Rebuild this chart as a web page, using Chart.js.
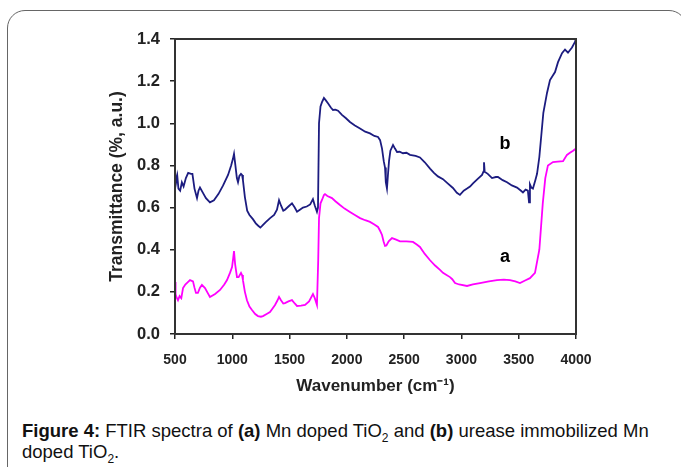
<!DOCTYPE html>
<html>
<head>
<meta charset="utf-8">
<script src="https://cdn.jsdelivr.net/npm/chart.js@4.4.0/dist/chart.umd.min.js"></script>
<style>
    html, body { margin: 0; padding: 0; background: #fff; overflow: hidden; }
    body { width: 681px; height: 467px; position: relative; }
    #frame {
        position: absolute; left: 7px; top: 10px; width: 680px; height: 520px;
        border: 1.5px solid #666; border-radius: 18px; box-sizing: border-box;
    }
    #wrap { position: absolute; left: 0; top: 0; width: 681px; height: 400px; }
    #caption {
        position: absolute; left: 22px; top: 420px; width: 652px;
        font: 18.5px 'Liberation Sans', Arial, sans-serif;
        line-height: 21px; color: #111;
    }
    #caption sub { font-size: 12px; line-height: 0; }
</style>
</head>
<body>
<div id="frame"></div>
<div id="wrap"><canvas id="ftirChart" width="681" height="400"></canvas></div>
<div id="caption"><b>Figure 4:</b> FTIR spectra of <b>(a)</b> Mn doped TiO<sub>2</sub> and <b>(b)</b> urease immobilized Mn doped TiO<sub>2</sub>.</div>

<script>
// wavenumbers (cm-1) and transmittance for (b) urease immobilized Mn doped TiO2
const waveB = [500, 510, 520, 530, 545, 560, 575, 595, 615, 640, 652, 670, 692, 705, 718, 744, 770, 805, 840, 880,
    920, 963, 990, 1005, 1015, 1025, 1040, 1050, 1062, 1076, 1085, 1093, 1110, 1130, 1150, 1180, 1205, 1224, 1245, 1260,
    1290, 1330, 1365, 1390, 1408, 1425, 1445, 1460, 1490, 1521, 1545, 1565, 1590, 1617, 1650, 1680, 1704, 1720, 1739, 1748,
    1757, 1770, 1783, 1800, 1815, 1835, 1860, 1879, 1900, 1923, 1957, 1990, 2027, 2070, 2115, 2160, 2202, 2240, 2272, 2290,
    2307, 2322, 2333, 2340, 2350, 2358, 2368, 2380, 2403, 2420, 2438, 2460, 2490, 2520, 2551, 2600, 2638, 2680, 2726, 2760,
    2795, 2839, 2880, 2926, 2960, 2987, 3020, 3049, 3075, 3101, 3140, 3180, 3192, 3197, 3203, 3230, 3267, 3300, 3319, 3360,
    3398, 3440, 3485, 3520, 3537, 3560, 3580, 3590, 3598, 3610, 3624, 3645, 3660, 3680, 3700, 3715, 3747, 3773, 3817, 3843,
    3878, 3904, 3930, 3965, 3990, 4000];
const transB = [0.78, 0.72, 0.75, 0.69, 0.68, 0.72, 0.70, 0.74, 0.765, 0.76, 0.76, 0.69, 0.645, 0.68, 0.695, 0.67, 0.645, 0.625, 0.635, 0.665,
    0.705, 0.755, 0.80, 0.83, 0.855, 0.81, 0.74, 0.72, 0.75, 0.76, 0.755, 0.73, 0.65, 0.585, 0.565, 0.545, 0.525, 0.515, 0.505, 0.513,
    0.53, 0.55, 0.565, 0.59, 0.635, 0.61, 0.585, 0.59, 0.605, 0.62, 0.60, 0.58, 0.59, 0.60, 0.605, 0.615, 0.64, 0.61, 0.58, 0.60,
    1.00, 1.08, 1.10, 1.12, 1.11, 1.095, 1.075, 1.063, 1.065, 1.06, 1.04, 1.025, 1.006, 0.99, 0.975, 0.96, 0.952, 0.94, 0.935, 0.92,
    0.88, 0.82, 0.79, 0.72, 0.69, 0.75, 0.82, 0.87, 0.897, 0.88, 0.864, 0.865, 0.858, 0.86, 0.85, 0.845, 0.838, 0.815, 0.785, 0.765,
    0.748, 0.735, 0.715, 0.693, 0.67, 0.66, 0.68, 0.69, 0.70, 0.715, 0.735, 0.755, 0.77, 0.815, 0.77, 0.76, 0.74, 0.745, 0.745, 0.73,
    0.72, 0.705, 0.695, 0.68, 0.672, 0.685, 0.68, 0.625, 0.71, 0.695, 0.69, 0.73, 0.76, 0.84, 0.96, 1.05, 1.144, 1.205, 1.243, 1.29,
    1.333, 1.35, 1.335, 1.36, 1.385, 1.40];

// wavenumbers (cm-1) and transmittance for (a) Mn doped TiO2
const waveA = [500, 505, 512, 526, 540, 555, 570, 590, 610, 631, 657, 670, 683, 700, 718, 735, 762, 785, 805, 850,
    893, 930, 954, 980, 998, 1008, 1015, 1025, 1041, 1055, 1076, 1085, 1093, 1110, 1128, 1150, 1172, 1200, 1224, 1250,
    1268, 1300, 1329, 1350, 1373, 1395, 1408, 1425, 1445, 1460, 1490, 1521, 1545, 1565, 1600, 1635, 1670, 1704, 1720, 1739,
    1750, 1757, 1770, 1783, 1800, 1809, 1830, 1870, 1900, 1940, 1980, 2027, 2070, 2115, 2160, 2202, 2240, 2272, 2290, 2307,
    2320, 2333, 2345, 2365, 2394, 2430, 2464, 2520, 2577, 2610, 2638, 2680, 2726, 2770, 2813, 2839, 2870, 2900, 2920, 2944,
    2980, 3049, 3100, 3162, 3240, 3310, 3370, 3424, 3470, 3511, 3560, 3598, 3642, 3680, 3710, 3732, 3755, 3799, 3840, 3887,
    3921, 3947, 3975, 4000];
const transA = [0.247, 0.19, 0.176, 0.16, 0.18, 0.17, 0.218, 0.235, 0.245, 0.256, 0.25, 0.22, 0.195, 0.195, 0.22, 0.233, 0.218, 0.195, 0.176, 0.19,
    0.209, 0.235, 0.256, 0.29, 0.318, 0.36, 0.394, 0.33, 0.27, 0.27, 0.29, 0.28, 0.256, 0.2, 0.16, 0.13, 0.114, 0.095, 0.085, 0.082,
    0.085, 0.095, 0.104, 0.12, 0.138, 0.16, 0.176, 0.16, 0.145, 0.147, 0.155, 0.161, 0.145, 0.133, 0.135, 0.138, 0.155, 0.19, 0.17, 0.138,
    0.35, 0.55, 0.62, 0.636, 0.66, 0.664, 0.655, 0.645, 0.63, 0.612, 0.595, 0.579, 0.565, 0.55, 0.54, 0.532, 0.52, 0.508, 0.49, 0.47,
    0.44, 0.418, 0.42, 0.44, 0.455, 0.448, 0.44, 0.44, 0.437, 0.425, 0.413, 0.38, 0.35, 0.325, 0.304, 0.29, 0.28, 0.27, 0.26, 0.242,
    0.235, 0.228, 0.235, 0.242, 0.25, 0.256, 0.258, 0.256, 0.25, 0.242, 0.255, 0.265, 0.29, 0.40, 0.62, 0.74, 0.80, 0.816, 0.818, 0.82,
    0.85, 0.86, 0.87, 0.88];

// axis ticks
const xTicks = [500, 1000, 1500, 2000, 2500, 3000, 3500, 4000];
const yTicks = [0.0, 0.2, 0.4, 0.6, 0.8, 1.0, 1.2, 1.4];

// curve labels (wavenumber, transmittance)
const curveLabels = ['a', 'b'];
const curveLabelX = [3380, 3380];
const curveLabelY = [0.365, 0.90];

function toPoints(xs, ys) {
    return xs.map((x, i) => ({ x: x, y: ys[i] }));
}

// box round the plot area
const frameBox = {
    id: 'frameBox',
    afterDraw(chart) {
        const { ctx, chartArea } = chart;
        ctx.save();
        ctx.strokeStyle = '#333';
        ctx.lineWidth = 2;
        ctx.strokeRect(chartArea.left, chartArea.top, chartArea.right - chartArea.left, chartArea.bottom - chartArea.top);
        ctx.restore();
    }
};

// "a" and "b" next to the curves
const curveText = {
    id: 'curveText',
    afterDatasetsDraw(chart) {
        const { ctx, scales } = chart;
        ctx.save();
        ctx.font = 'bold 18px "Liberation Sans", Arial, sans-serif';
        ctx.fillStyle = '#000';
        ctx.textAlign = 'center';
        ctx.textBaseline = 'middle';
        curveLabels.forEach((t, i) => {
            ctx.fillText(t, scales.x.getPixelForValue(curveLabelX[i]), scales.y.getPixelForValue(curveLabelY[i]));
        });
        ctx.restore();
    }
};

const ctx = document.getElementById('ftirChart').getContext('2d');
new Chart(ctx, {
    type: 'line',
    data: {
        datasets: [{
            label: 'b',
            data: toPoints(waveB, transB),
            borderColor: '#1c1c80',
            borderWidth: 1.8,
            pointRadius: 0,
            tension: 0
        }, {
            label: 'a',
            data: toPoints(waveA, transA),
            borderColor: '#ff00ff',
            borderWidth: 1.8,
            pointRadius: 0,
            tension: 0
        }]
    },
    options: {
        responsive: false,
        animation: false,
        layout: { padding: { top: 39, right: 105, left: 100, bottom: 0 } },
        plugins: {
            legend: { display: false },
            tooltip: { enabled: false }
        },
        scales: {
            x: {
                type: 'linear',
                min: 500,
                max: 4000,
                afterBuildTicks: s => { s.ticks = xTicks.map(v => ({ value: v })); },
                afterFit: s => { s.height = 66; },
                grid: { drawOnChartArea: false, drawTicks: true, tickLength: 5, color: '#222', lineWidth: 1.5 },
                border: { color: '#222', width: 2 },
                ticks: {
                    padding: 13,
                    maxRotation: 0,
                    color: '#222',
                    callback: v => String(v),
                    font: { family: "'Liberation Sans', Arial", size: 14, weight: 'bold' }
                },
                title: {
                    display: true,
                    text: 'Wavenumber (cm\u207B\u00B9)',
                    color: '#222',
                    padding: { top: 0, bottom: 3 },
                    font: { family: "'Liberation Sans', Arial", size: 17, weight: 'bold' }
                }
            },
            y: {
                min: 0,
                max: 1.4,
                afterBuildTicks: s => { s.ticks = yTicks.map(v => ({ value: v })); },
                afterFit: s => { s.width = 75; },
                grid: { drawOnChartArea: false, drawTicks: true, tickLength: 5, color: '#222', lineWidth: 1.5 },
                border: { color: '#222', width: 2 },
                ticks: {
                    padding: 10,
                    color: '#222',
                    callback: v => v.toFixed(1),
                    font: { family: "'Liberation Sans', Arial", size: 16.5, weight: 'bold' }
                },
                title: {
                    display: true,
                    text: 'Transmittance (%, a.u.)',
                    color: '#222',
                    padding: { top: 7, bottom: 0 },
                    font: { family: "'Liberation Sans', Arial", size: 17.5, weight: 'bold' }
                }
            }
        }
    },
    plugins: [frameBox, curveText]
});
</script>
</body>
</html>
